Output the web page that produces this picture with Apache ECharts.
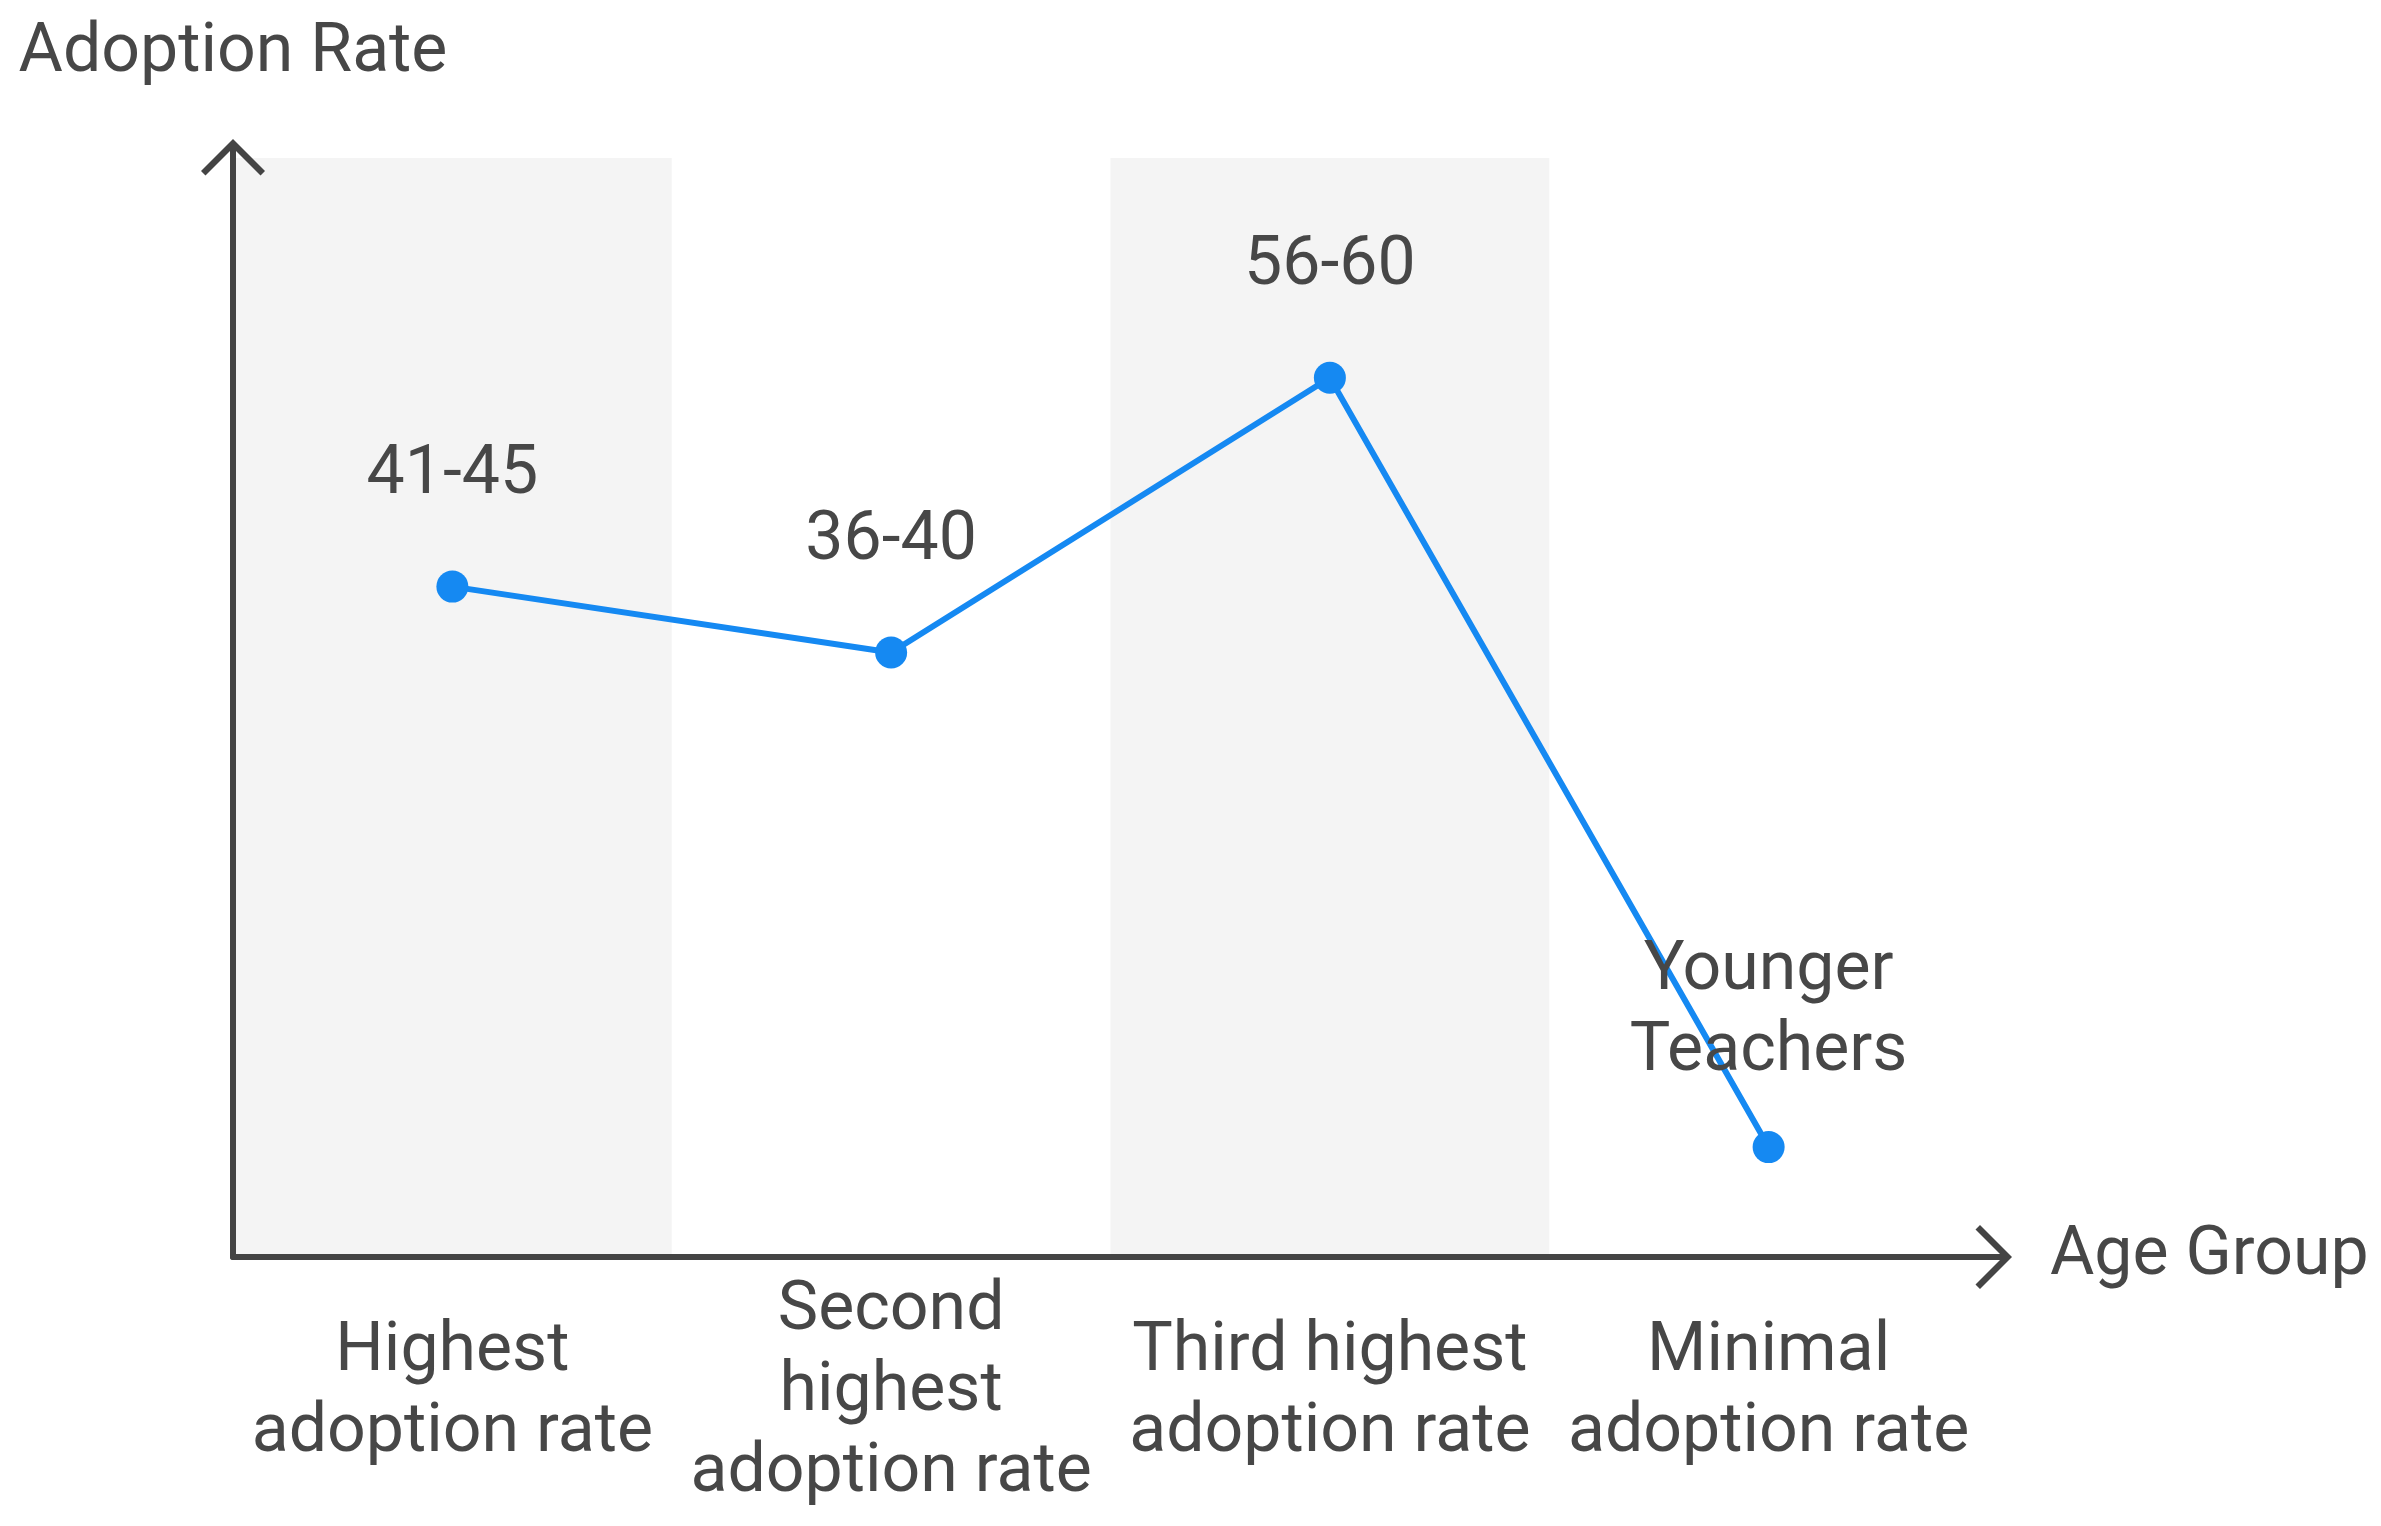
<!DOCTYPE html>
<html>
<head>
<meta charset="utf-8">
<script src="https://cdn.jsdelivr.net/npm/echarts@6/dist/echarts.min.js"></script>
<style>
html,body{margin:0;padding:0;background:#fff;}
#chart{width:2381px;height:1526px;}
</style>
</head>
<body>
<div id="chart"></div>
<script>
// Data
const categories = ['Highest\nadoption rate', 'Second\nhighest\nadoption rate', 'Third highest\nadoption rate', 'Minimal\nadoption rate'];
const groupLabels = ['41-45', '36-40', '56-60', 'Younger\nTeachers'];
const adoptionValues = [61, 55, 80, 10];
const yMin = 0;
const yMax = 100;

const textColor = '#474747';
const axisColor = '#444444';
const lineColor = '#1589F2';
const font = 'Roboto';

// chevron with stem, pointing up (rotated along the axis by ECharts)
const arrowPath = 'path://M32,0 L64,32 L59.5,36.5 L35,12 L35,40 L29,40 L29,12 L4.5,36.5 L0,32 Z';

const seriesData = adoptionValues.map((v, i) => ({
  value: v,
  name: groupLabels[i],
  label: { distance: groupLabels[i].indexOf('\n') >= 0 ? 38 : 54 }
}));

const chart = echarts.init(document.getElementById('chart'), null, { renderer: 'canvas' });
chart.setOption({
  backgroundColor: '#ffffff',
  animation: false,
  grid: { left: 233, right: 393, top: 158, bottom: 269, containLabel: false },
  xAxis: {
    type: 'category',
    data: categories,
    boundaryGap: true,
    name: 'Age Group',
    nameLocation: 'end',
    nameGap: 62,
    nameTextStyle: { fontFamily: font, fontSize: 68, color: textColor, verticalAlign: 'middle', align: 'left' },
    axisLine: {
      show: true,
      symbol: ['none', arrowPath],
      symbolSize: [64, 40],
      symbolOffset: [0, 4],
      lineStyle: { color: axisColor, width: 6 }
    },
    axisTick: { show: false },
    axisLabel: {
      fontFamily: font, fontSize: 68, color: textColor, lineHeight: 81,
      verticalAlign: 'middle', align: 'center', margin: 136, interval: 0
    },
    splitLine: { show: false },
    splitArea: { show: true, areaStyle: { color: ['#f4f4f4', 'rgba(255,255,255,0)'] } }
  },
  yAxis: {
    type: 'value',
    min: yMin,
    max: yMax,
    name: 'Adoption Rate',
    nameLocation: 'end',
    nameGap: 104,
    nameTextStyle: { fontFamily: font, fontSize: 68, color: textColor, verticalAlign: 'middle', align: 'center' },
    axisLine: {
      show: true,
      symbol: ['none', arrowPath],
      symbolSize: [66, 40],
      symbolOffset: [0, -1],
      lineStyle: { color: axisColor, width: 6 }
    },
    axisTick: { show: false },
    axisLabel: { show: false },
    splitLine: { show: false }
  },
  series: [{
    type: 'line',
    data: seriesData,
    symbol: 'circle',
    symbolSize: 32,
    lineStyle: { color: lineColor, width: 6 },
    itemStyle: { color: lineColor },
    label: {
      show: true,
      position: 'top',
      formatter: p => p.name,
      fontFamily: font, fontSize: 68, color: textColor, lineHeight: 81
    },
    z: 3
  }]
});
</script>
</body>
</html>
